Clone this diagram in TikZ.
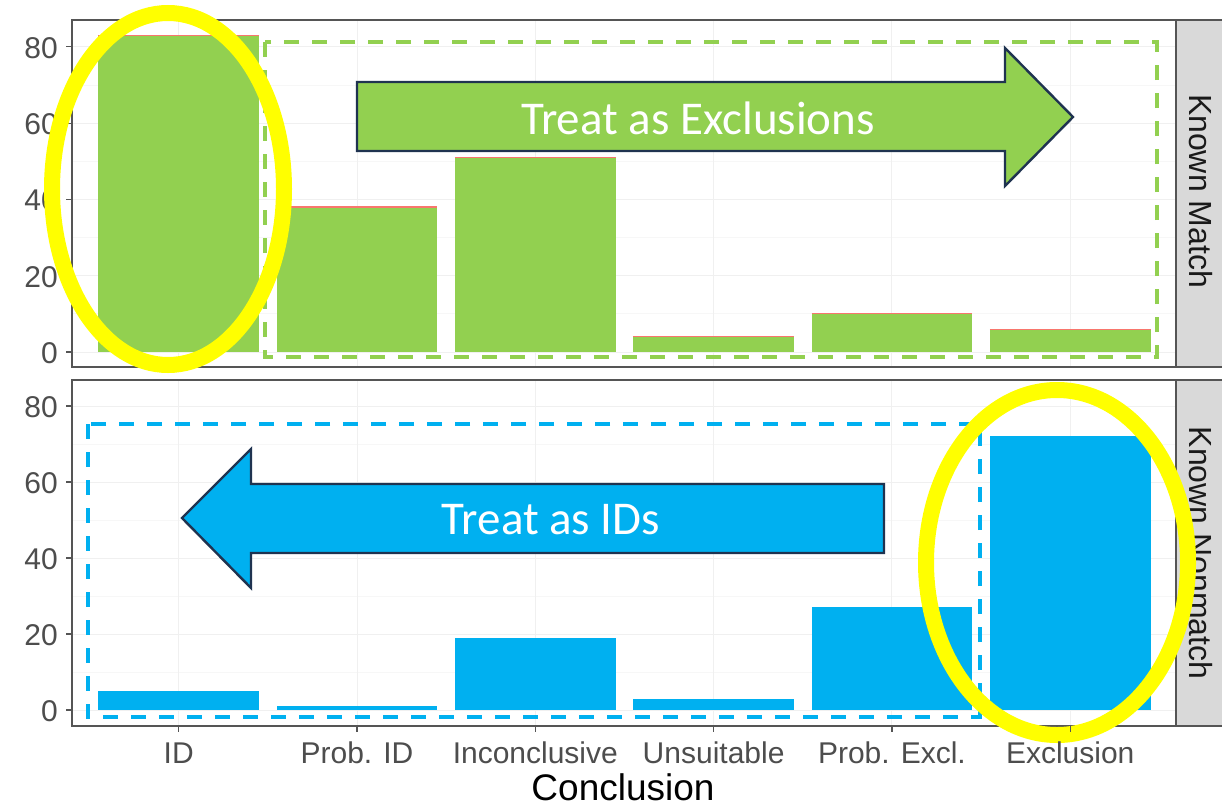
\documentclass[tikz,border=0pt]{standalone}
\usepackage{fontspec}
\setmainfont{Liberation Sans}
\newfontfamily\calibri{Carlito}
\definecolor{barGreen}{HTML}{92D050}
\definecolor{barBlue}{HTML}{00B0F0}
\definecolor{navy}{HTML}{1F3350}
\definecolor{axisText}{HTML}{4D4D4D}
\definecolor{frameGrey}{HTML}{555555}
\definecolor{stripGrey}{HTML}{D9D9D9}
\definecolor{stripText}{HTML}{1A1A1A}
\definecolor{topLine}{HTML}{F8766D}
\definecolor{hiYellow}{HTML}{FFFF00}
\begin{document}
\begin{tikzpicture}[x=1pt,y=-1pt,
  frame/.style={draw=frameGrey,line width=1.4pt},
  strip/.style={fill=stripGrey,draw=frameGrey,line width=1.4pt},
  striplabel/.style={rotate=-90,text=stripText,font=\fontsize{32}{36}\selectfont,inner sep=0pt},
  ylab/.style={anchor=east,text=axisText,font=\fontsize{30}{34}\selectfont,inner sep=0pt},
  xlab/.style={anchor=base,text=axisText,font=\fontsize{30}{34}\selectfont,inner sep=0pt},
  tickmark/.style={draw=frameGrey,line width=1.2pt},
  gridmajor/.style={draw=black!6,line width=1pt},
  gridminor/.style={draw=black!3,line width=0.8pt},
  dashbox/.style={line width=4pt,dash pattern=on 15pt off 13pt},
  bigarrow/.style={draw=navy,line width=2.4pt,line join=miter},
  arrowtext/.style={text=white,font=\calibri\fontsize{47}{50}\selectfont,inner sep=0pt},
  ring/.style={draw=hiYellow,line width=16pt}]
\useasboundingbox (0,0) rectangle (1222,808);
\fill[white] (0,0) rectangle (1222,808);
\clip (0,0) rectangle (1222,808);

% ---------- grid lines ----------
\foreach \base/\unit in {352/3.815,710/3.8}{
  \foreach \v in {10,30,50,70}
    \draw[gridminor] (72,\base-\v*\unit) -- (1176,\base-\v*\unit);
  \foreach \v in {0,20,40,60,80}
    \draw[gridmajor] (72,\base-\v*\unit) -- (1176,\base-\v*\unit);
}
\foreach \i in {0,...,5}{
  \draw[gridmajor] (178.7+\i*178.3,20) -- (178.7+\i*178.3,367);
  \draw[gridmajor] (178.7+\i*178.3,380) -- (178.7+\i*178.3,726);
}

% ---------- bars: Known Match ----------
\foreach \v [count=\i] in {83,38,51,4,10,6}{
  \pgfmathsetmacro\cx{178.7+(\i-1)*178.3}
  \fill[barGreen] (\cx-80.3,352) rectangle (\cx+80.3,352-\v*3.815);
  \draw[topLine,line width=1.2pt] (\cx-80.3,352-\v*3.815) -- (\cx+80.3,352-\v*3.815);
}
% ---------- bars: Known Nonmatch ----------
\foreach \v [count=\i] in {5,1,19,3,27,72}{
  \pgfmathsetmacro\cx{178.7+(\i-1)*178.3}
  \fill[barBlue] (\cx-80.3,710) rectangle (\cx+80.3,710-\v*3.8);
}

% ---------- panel frames and strips ----------
\draw[frame] (72,20) rectangle (1176,367);
\draw[frame] (72,380) rectangle (1176,726);
\draw[strip] (1176,20) rectangle (1240,367);
\draw[strip] (1176,380) rectangle (1240,726);
\node[striplabel] (stripTop) at (1201,191) {Known Match};
\node[striplabel] (stripBot) at (1201,553) {Known Nonmatch};

% ---------- y axes ----------
\foreach \v in {0,20,40,60,80}{
  \draw[tickmark] (66,352-\v*3.815) -- (72,352-\v*3.815);
  \node[ylab] (yt\v) at (58,353-\v*3.815) {\v};
  \draw[tickmark] (66,710-\v*3.8) -- (72,710-\v*3.8);
  \node[ylab] (yb\v) at (58,711-\v*3.8) {\v};
}

% ---------- dashed groupings ----------
\draw[barGreen,dashbox] (265,42) rectangle (1157,357);
\draw[barBlue,dashbox] (88,424) rectangle (980,717);

% ---------- block arrows ----------
\draw[bigarrow,fill=barGreen] (357,82) -- (1005,82) -- (1005,48) -- (1073,117)
  -- (1005,186) -- (1005,151) -- (357,151) -- cycle;
\node[arrowtext] (treatExcl) at (698,118) {Treat as Exclusions};

\draw[bigarrow,fill=barBlue] (884,484) -- (251,484) -- (251,449) -- (182,518)
  -- (251,588) -- (251,553) -- (884,553) -- cycle;
\node[arrowtext] (treatID) at (551,520) {Treat as IDs};

% ---------- highlight rings ----------
\draw[ring] (168,189) ellipse [x radius=116pt,y radius=176pt];
\draw[ring] (1057,562.5) ellipse [x radius=131pt,y radius=172.5pt];

% ---------- x axis (kept above the rings) ----------
\foreach \lab [count=\i] in {ID,Prob. ID,Inconclusive,Unsuitable,Prob. Excl.,Exclusion}{
  \pgfmathsetmacro\cx{178.7+(\i-1)*178.3}
  \draw[tickmark] (\cx,726) -- (\cx,732);
  \node[xlab] (xl\i) at (\cx,763) {\lab};
}
\node[anchor=base,text=black,font=\fontsize{37}{40}\selectfont,inner sep=0pt] (xtitle) at (623,800) {Conclusion};
\end{tikzpicture}
\end{document}
